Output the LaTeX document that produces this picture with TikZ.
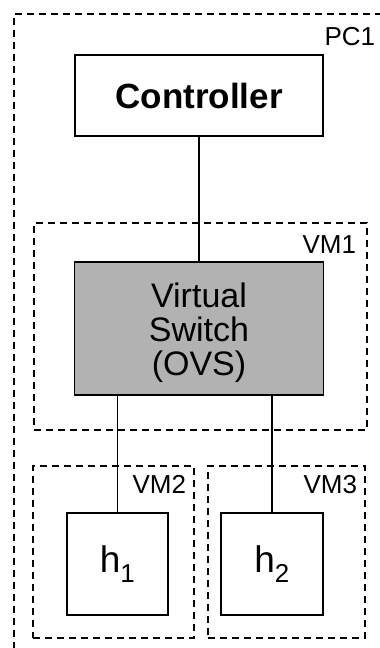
\documentclass[tikz,border=0pt]{standalone}
\usepackage{fontspec}
\setmainfont{Liberation Sans}
\usetikzlibrary{positioning}

\begin{document}
\begin{tikzpicture}[
        x=1pt, y=-1pt,
        line width=1.8pt,
        on grid,
        every node/.style={font=\fontsize{34}{34}\selectfont},
        box/.style={draw, rectangle, inner sep=0pt},
        vm/.style={draw, rectangle, inner sep=0pt, dash pattern=on 7pt off 5pt},
        vmlabel/.style={anchor=base east, inner sep=0pt, font=\fontsize{26}{26}\selectfont}
    ]
    \useasboundingbox (0,0) rectangle (380,648);
    % outer machine, cut off at the page border
    \begin{scope}
        \clip (0,0) rectangle (380,648);
        \node[vm, anchor=north west, minimum width=376pt, minimum height=660pt] (pc1) at (13,13) {};
    \end{scope}
    \node[vmlabel] (pc1lbl) at (376,45) {PC1};
    \node[box, minimum width=248pt, minimum height=81pt, font=\bfseries\fontsize{35}{35}\selectfont] (ctrl) at (199,95.5) {Controller};
    \node[vm, minimum width=333pt, minimum height=207pt] (vm1) at (200.5,326.5) {};
    \node[vmlabel] (vm1lbl) at (357,253) {VM1};
    \node[box, fill=black!30, align=center, text height=101pt, minimum width=249pt, minimum height=133pt, below=233pt of ctrl] (ovs) {Virtual\\Switch\\(OVS)};
    \node[vm, minimum width=161pt, minimum height=172pt] (vm2) at (113.5,552) {};
    \node[vmlabel] (vm2lbl) at (187,493) {VM2};
    \node[vm, minimum width=157pt, minimum height=172pt] (vm3) at (286.5,552) {};
    \node[vmlabel] (vm3lbl) at (358,493) {VM3};
    \node[box, minimum width=101pt, minimum height=102pt, font=\fontsize{37}{37}\selectfont] (h1) at (117.5,564) {h\textsubscript{1}};
    \node[box, minimum width=102pt, minimum height=102pt, font=\fontsize{37}{37}\selectfont] (h2) at (272,564) {h\textsubscript{2}};
    \draw (ctrl) -- (ovs);
    \draw (h1.north) -- (h1.north |- ovs.south);
    \draw (h2.north) -- (h2.north |- ovs.south);
\end{tikzpicture}
\end{document}
